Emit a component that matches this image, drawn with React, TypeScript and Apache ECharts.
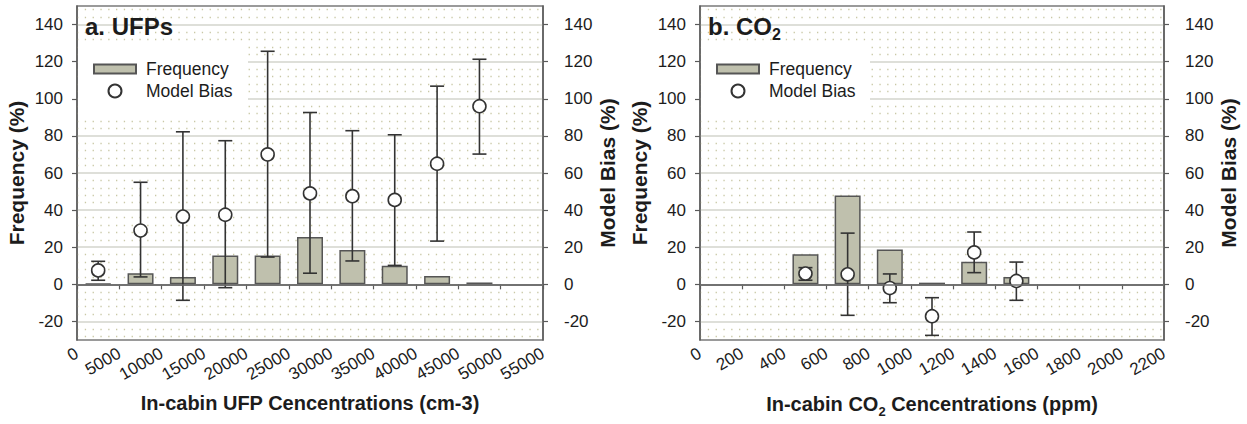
import React, { useEffect, useRef } from "react";
import * as echarts from "echarts";

// ---------- data ----------
const ufpBins = [2500, 7500, 12500, 17500, 22500, 27500, 32500, 37500, 42500, 47500];
const ufpFrequency = [0.4, 6, 4, 15.5, 15.5, 25.5, 18.5, 10, 4.5, 1];
const ufpBias = [7.5, 29, 36.5, 37.5, 70, 49, 47.5, 45.5, 65, 96];
const ufpBiasLow = [2.2, 4, -8.6, -1.8, 14.7, 6, 12.6, 10.2, 23.3, 70.2];
const ufpBiasHigh = [12.4, 55, 82.2, 77.4, 125.6, 92.6, 82.8, 80.6, 106.8, 121.3];

const co2Bins = [500, 700, 900, 1100, 1300, 1500];
const co2Frequency = [16.2, 47.9, 18.8, 0.9, 12.2, 3.9];
const co2Bias = [5.8, 5.4, -2, -17.2, 17.2, 1.8];
const co2BiasLow = [2.2, -16.7, -9.9, -27.5, 6.3, -8.6];
const co2BiasHigh = [9, 27.6, 5.6, -7.2, 28.2, 12];

const yTickValues = [-20, 0, 20, 40, 60, 80, 100, 120, 140];

const FONT = "'Liberation Sans', Arial, Helvetica, sans-serif";
const TEXT = "#1c1c1c";
const AXIS = "#5a5a5a";
const BAR_FILL = "#bfc0ad";
const BAR_EDGE = "#555555";
const MAJOR = "#d3d4cc";
const MINOR = "#c9c8a6";
const T = "rgba(0,0,0,0)";

function pairs(xs: number[], ys: number[]) {
  return xs.map((x, i) => [x, ys[i]]);
}
function triples(xs: number[], lo: number[], hi: number[]) {
  return xs.map((x, i) => [x, lo[i], hi[i]]);
}

function errorBarItem(params: any, api: any) {
  const x = api.value(0);
  const lo = api.coord([x, api.value(1)]);
  const hi = api.coord([x, api.value(2)]);
  const hw = 7;
  const style = { stroke: "#333333", lineWidth: 1.6 };
  return {
    type: "group",
    children: [
      { type: "line", shape: { x1: lo[0], y1: lo[1], x2: hi[0], y2: hi[1] }, style },
      { type: "line", shape: { x1: lo[0] - hw, y1: lo[1], x2: lo[0] + hw, y2: lo[1] }, style },
      { type: "line", shape: { x1: hi[0] - hw, y1: hi[1], x2: hi[0] + hw, y2: hi[1] }, style },
    ],
  };
}

function xAxisFor(gridIndex: number, max: number, interval: number, name: string, rich?: any) {
  return {
    type: "value",
    gridIndex,
    min: 0,
    max,
    interval,
    position: "bottom",
    name,
    nameLocation: "middle",
    nameGap: rich ? 50 : 53,
    nameTextStyle: rich
      ? { rich }
      : { fontFamily: FONT, fontSize: 20, fontWeight: "bold", color: TEXT },
    axisLine: { show: true, lineStyle: { color: AXIS, width: 1.5 } },
    axisTick: { show: true, length: 5, lineStyle: { color: AXIS, width: 1.2 } },
    axisLabel: {
      rotate: 30,
      margin: 12,
      fontFamily: FONT,
      fontSize: 17,
      color: TEXT,
      showMinLabel: true,
      showMaxLabel: true,
      formatter: (v: number) => String(v),
    },
    splitLine: { show: false },
  };
}

function yAxisFor(gridIndex: number, position: "left" | "right", name: string) {
  return {
    type: "value",
    gridIndex,
    position,
    min: -30,
    max: 150,
    interval: 10,
    name,
    nameLocation: "middle",
    nameRotate: 90,
    nameGap: position === "left" ? 50 : 54,
    nameTextStyle: { fontFamily: FONT, fontSize: 21, fontWeight: "bold", color: TEXT },
    axisLine: { show: true, lineStyle: { color: AXIS, width: 1.5 } },
    axisTick: { show: true, length: 5, customValues: yTickValues, lineStyle: { color: AXIS, width: 1.2 } },
    axisLabel: {
      customValues: yTickValues,
      margin: position === "left" ? 14 : 21,
      fontFamily: FONT,
      fontSize: 17,
      color: TEXT,
    },
    splitLine: { show: false },
  };
}

function helperAxis(gridIndex: number, interval: number, colors: string[], type: any) {
  return {
    type: "value",
    gridIndex,
    position: "left",
    min: -30,
    max: 150,
    interval,
    axisLine: { show: false },
    axisTick: { show: false },
    axisLabel: { show: false },
    splitLine: { show: true, lineStyle: { color: colors, width: type === "solid" ? 1.5 : 1.3, type } },
  };
}

const majorColors = [T, MAJOR];
const minorColors = [T, MINOR, T, MINOR, T, T, T, MINOR, T, MINOR];

function panelSeries(
  gridIndex: number,
  bins: number[],
  freq: number[],
  bias: number[],
  lo: number[],
  hi: number[]
) {
  const yFreq = gridIndex * 4;
  const yBias = gridIndex * 4 + 1;
  return [
    {
      name: "Frequency",
      type: "bar",
      xAxisIndex: gridIndex,
      yAxisIndex: yFreq,
      barWidth: 26,
      data: pairs(bins, freq),
      itemStyle: { color: BAR_FILL, borderColor: BAR_EDGE, borderWidth: 1.5 },
      z: 2,
      markLine: {
        silent: true,
        symbol: "none",
        label: { show: false },
        lineStyle: { color: "#707070", width: 1.6, type: "solid" },
        data: [{ yAxis: 0 }],
      },
    },
    {
      name: "errorbars" + gridIndex,
      type: "custom",
      xAxisIndex: gridIndex,
      yAxisIndex: yBias,
      renderItem: errorBarItem,
      encode: { x: 0, y: [1, 2] },
      data: triples(bins, lo, hi),
      z: 3,
    },
    {
      name: "Model Bias",
      type: "scatter",
      xAxisIndex: gridIndex,
      yAxisIndex: yBias,
      symbol: "circle",
      symbolSize: 13,
      data: pairs(bins, bias),
      itemStyle: { color: "#ffffff", borderColor: "#333333", borderWidth: 1.6, opacity: 1 },
      z: 4,
    },
  ];
}

function legendFor(left: number) {
  const base = { fontFamily: FONT, fontSize: 17.5, color: TEXT };
  return [
    {
      left,
      top: 60,
      padding: 0,
      itemWidth: 42,
      itemHeight: 9,
      icon: "rect",
      selectedMode: false,
      data: ["Frequency"],
      textStyle: { ...base, padding: [0, 0, 0, 5] },
    },
    {
      left: left + 14.5,
      top: 82,
      padding: 0,
      itemWidth: 13,
      itemHeight: 13,
      selectedMode: false,
      data: ["Model Bias"],
      textStyle: { ...base, padding: [0, 0, 0, 19.5] },
    },
  ];
}

export default function App() {
  const ref = useRef<HTMLDivElement>(null);

  useEffect(() => {
    document.body.style.margin = "0";
    if (!ref.current) return;
    const chart = echarts.init(ref.current, undefined, { renderer: "svg" });

    const subRich = {
      a: { fontFamily: FONT, fontSize: 20, fontWeight: "bold", color: TEXT, lineHeight: 28 },
      s: { fontFamily: FONT, fontSize: 13, fontWeight: "bold", color: TEXT, verticalAlign: "bottom" },
    };
    const titleRich = {
      a: { fontFamily: FONT, fontSize: 24, fontWeight: "bold", color: TEXT, lineHeight: 32 },
      s: { fontFamily: FONT, fontSize: 16, fontWeight: "bold", color: TEXT, verticalAlign: "bottom" },
    };

    chart.setOption({
      animation: false,
      backgroundColor: "#ffffff",
      title: [
        {
          text: "a. UFPs",
          left: 85,
          top: 14,
          padding: 0,
          textStyle: { fontFamily: FONT, fontSize: 24, fontWeight: "bold", color: TEXT },
        },
        {
          text: "{a|b. CO}{s|2}",
          left: 708,
          top: 10,
          padding: 0,
          textStyle: { rich: titleRich },
        },
      ],
      legend: [...legendFor(93), ...legendFor(716)],
      graphic: [
        {
          type: "rect",
          z: 1,
          shape: { x: 78, y: 44, width: 170, height: 72 },
          style: { fill: "#ffffff" },
          silent: true,
        },
        {
          type: "rect",
          z: 1,
          shape: { x: 701, y: 44, width: 169, height: 72 },
          style: { fill: "#ffffff" },
          silent: true,
        },
      ],
      grid: [
        { left: 77, right: 704, top: 6, bottom: 84, show: true, borderColor: "#7a7a7a", borderWidth: 1.5, backgroundColor: "transparent" },
        { left: 700, right: 83, top: 6, bottom: 84, show: true, borderColor: "#7a7a7a", borderWidth: 1.5, backgroundColor: "transparent" },
      ],
      xAxis: [
        xAxisFor(0, 55000, 5000, "In-cabin UFP Cencentrations (cm-3)"),
        xAxisFor(1, 2200, 200, "{a|In-cabin CO}{s|2}{a| Cencentrations (ppm)}", subRich),
      ],
      yAxis: [
        yAxisFor(0, "left", "Frequency (%)"),
        yAxisFor(0, "right", "Model Bias (%)"),
        helperAxis(0, 10, majorColors, "solid"),
        helperAxis(0, 2, minorColors, [1.3, 6.5]),
        yAxisFor(1, "left", "Frequency (%)"),
        yAxisFor(1, "right", "Model Bias (%)"),
        helperAxis(1, 10, majorColors, "solid"),
        helperAxis(1, 2, minorColors, [1.3, 6.5]),
      ],
      series: [
        ...panelSeries(0, ufpBins, ufpFrequency, ufpBias, ufpBiasLow, ufpBiasHigh),
        ...panelSeries(1, co2Bins, co2Frequency, co2Bias, co2BiasLow, co2BiasHigh),
      ],
    });

    return () => chart.dispose();
  }, []);

  return (
    <div
      ref={ref}
      style={{ position: "absolute", left: 0, top: 0, width: 1247, height: 424 }}
    />
  );
}
